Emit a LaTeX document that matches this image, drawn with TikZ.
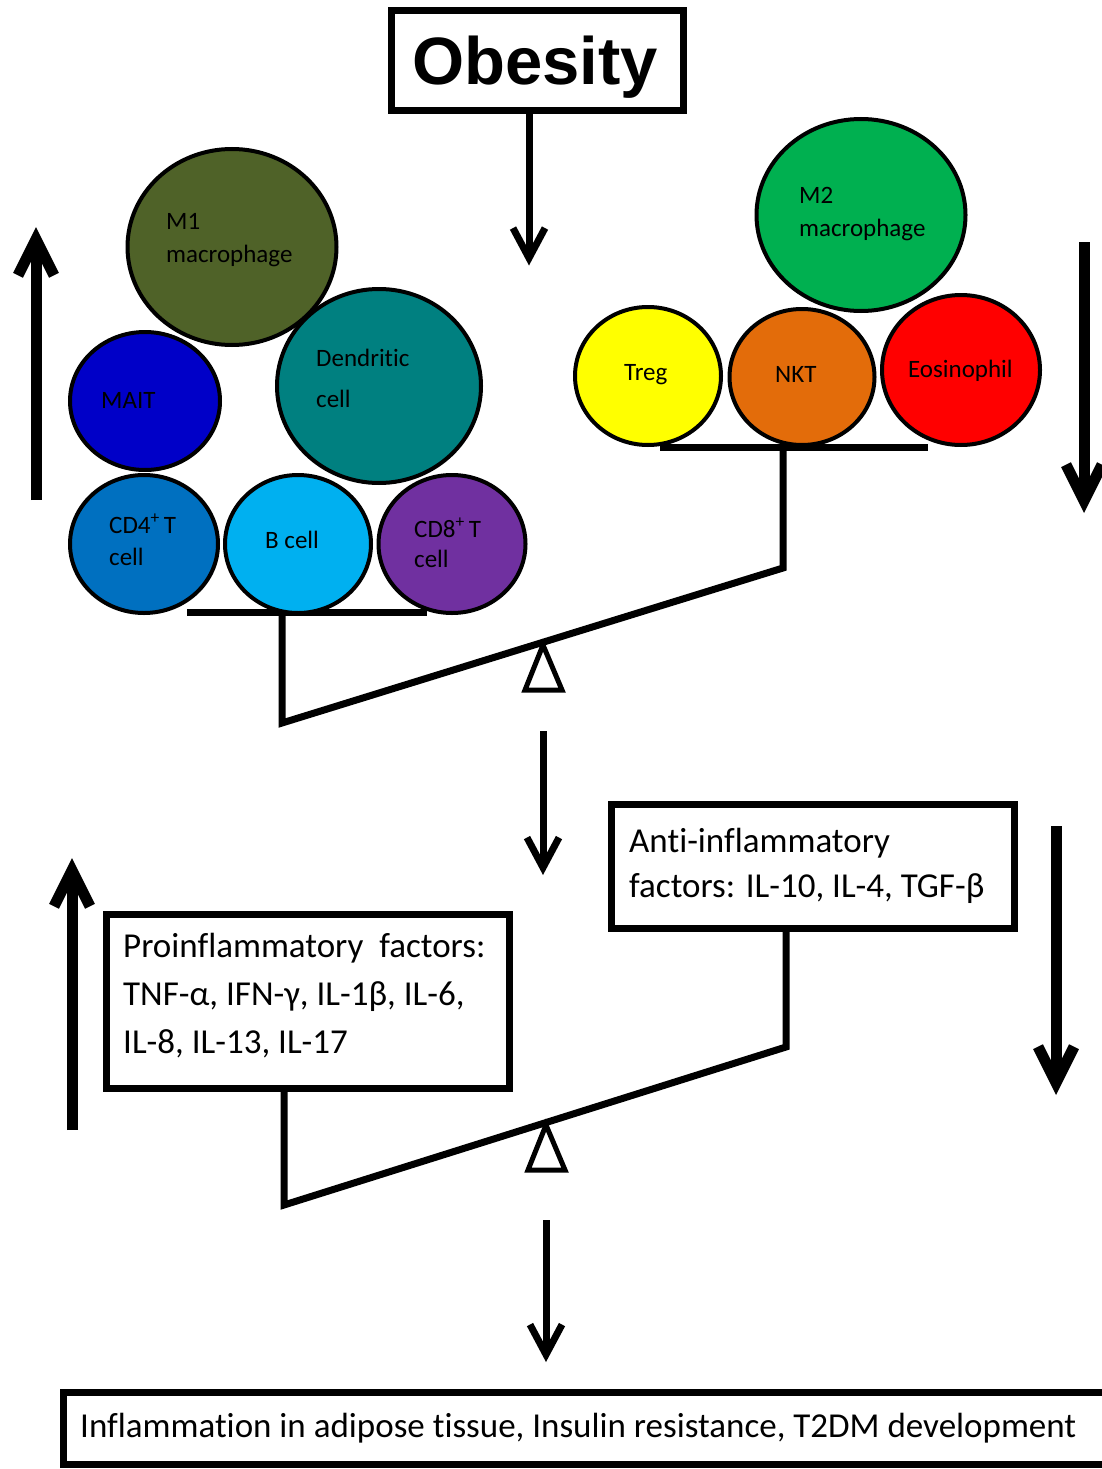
\documentclass[tikz,border=0pt]{standalone}
\usepackage{fontspec}
\setmainfont{Carlito}[Ligatures=NoCommon]
\newfontfamily\arialfont{Liberation Sans}
\usetikzlibrary{shapes.geometric,arrows.meta}
\definecolor{mone}{RGB}{79,98,40}
\definecolor{mait}{RGB}{0,0,200}
\definecolor{dend}{RGB}{0,128,128}
\definecolor{cdfour}{RGB}{0,112,192}
\definecolor{bcell}{RGB}{0,176,240}
\definecolor{cdeight}{RGB}{112,48,160}
\definecolor{mtwo}{RGB}{0,176,80}
\definecolor{treg}{RGB}{255,255,0}
\definecolor{nkt}{RGB}{227,108,10}
\definecolor{eos}{RGB}{255,0,0}
\begin{document}
\begin{tikzpicture}[x=1pt,y=-1pt,
  cell/.style={ellipse, draw=black, line width=4pt, inner sep=0pt},
  lbl/.style={font=\fontsize{25}{33}\selectfont, align=left, anchor=base west, inner sep=0pt},
  bar/.style={line width=7pt, line join=miter, line cap=butt},
  box/.style={draw=black, line width=7pt, inner sep=0pt, fill=white},
  btxt/.style={font=\fontsize{35}{45}\selectfont, align=left, anchor=base west, inner sep=0pt},
  arr/.style={line width=7pt, -{Straight Barb[length=30pt,width=32pt]}},
  bigarr/.style={line width=11pt, -{Straight Barb[length=36pt,width=36pt]}},
  fulc/.style={line width=5pt, line join=miter, fill=white}]
\useasboundingbox (0,0) rectangle (1102,1469);
\fill[white] (0,0) rectangle (1102,1469);

% Obesity
\node[box, minimum width=292, minimum height=100] (obesity) at (537,61) {};
\node[anchor=base, inner sep=0pt, font=\arialfont\bfseries\fontsize{67}{70}\selectfont] (obtxt) at (535,85) {Obesity};
\draw[arr] ([xshift=-8pt]obesity.south) -- ++(0,151);

% side arrows (top)
\coordinate (lua) at (36,500); \coordinate (lub) at (36,227);
\draw[bigarr] (lua) -- (lub);
\coordinate (rda) at (1084,242); \coordinate (rdb) at (1084,513);
\draw[bigarr] (rda) -- (rdb);

% seesaw 1
\coordinate (lpa) at (187,612); \coordinate (lpb) at (427,612);
\coordinate (rpa) at (660,447); \coordinate (rpb) at (928,447);
\coordinate (ls) at (282,612); \coordinate (lc) at (282,723);
\coordinate (rc) at (783,568); \coordinate (rs) at (783,447);
\draw[bar] (lpa) -- (lpb);
\draw[bar] (rpa) -- (rpb);
\draw[bar] (ls) -- (lc) -- (rc) -- (rs);
\draw[fulc] (543,645) -- (562,690) -- (525,690) -- cycle;

% left cells
\node[cell, fill=cdfour, minimum width=148, minimum height=138] (cd4) at (144,544) {};
\node[cell, fill=bcell, minimum width=146, minimum height=138] (bc) at (298,544) {};
\node[cell, fill=cdeight, minimum width=147, minimum height=138] (cd8) at (452,544) {};
\node[cell, fill=mait, minimum width=150, minimum height=138] (mait) at (145,401) {};
\node[cell, fill=mone, minimum width=209, minimum height=196] (m1) at (232,247) {};
\node[cell, fill=dend, minimum width=204, minimum height=194] (dc) at (379,386) {};

\node[lbl] (m1t) at (166,262) {M1\\macrophage};
\node[lbl] (maitt) at (101,408) {MAIT};
\node[lbl, font=\fontsize{25}{41}\selectfont] (dct) at (316,407) {Dendritic\\cell};
\node[lbl, font=\fontsize{25}{32}\selectfont] (cd4t) at (109,565) {CD4\textsuperscript{+}\,T\\cell};
\node[lbl] (bct) at (265,548) {B cell};
\node[lbl, font=\fontsize{25}{30}\selectfont] (cd8t) at (414,567) {CD8\textsuperscript{+}\,T\\cell};

% right cells
\node[cell, fill=treg, minimum width=146, minimum height=138] (tr) at (648,376) {};
\node[cell, fill=nkt, minimum width=145, minimum height=136] (nk) at (802,377) {};
\node[cell, fill=eos, minimum width=158, minimum height=150] (eo) at (961,370) {};
\node[cell, fill=mtwo, minimum width=209, minimum height=192] (m2) at (861,215) {};

\node[lbl] (m2t) at (799,236) {M2\\macrophage};
\node[lbl] (trt) at (624,380) {Treg};
\node[lbl] (nkt) at (775,382) {NKT};
\node[lbl] (eot) at (908,377) {Eosinophil};

% middle arrow
\coordinate (ma) at (543,731); \coordinate (mb) at (543,875);
\draw[arr] (ma) -- (mb);

% side arrows (bottom)
\coordinate (lla) at (72,1130); \coordinate (llb) at (72,858);
\draw[bigarr] (lla) -- (llb);
\coordinate (rla) at (1056,826); \coordinate (rlb) at (1056,1095);
\draw[bigarr] (rla) -- (rlb);

% factor boxes
\node[box, minimum width=403, minimum height=124] (anti) at (812.5,866) {};
\node[btxt] (antit) at (629,897) {Anti-inflammatory\\factors: IL-10, IL-4, TGF-β};
\node[box, minimum width=403, minimum height=174] (pro) at (307.5,1001) {};
\node[btxt, font=\fontsize{35}{48}\selectfont] (prot) at (123,1053) {Proinflammatory\ \ factors:\\TNF-α, IFN-γ, IL-1β, IL-6,\\IL-8, IL-13, IL-17};

% seesaw 2
\coordinate (ps) at (284,1091); \coordinate (pc) at (284,1205);
\coordinate (ac) at (786,1047); \coordinate (as) at (786,931);
\draw[bar] (ps) -- (pc) -- (ac) -- (as);
\draw[fulc] (546,1125) -- (565,1170) -- (528,1170) -- cycle;

% bottom arrow
\coordinate (ba) at (546,1220); \coordinate (bb) at (546,1362);
\draw[arr] (ba) -- (bb);

% outcome box
\node[box, minimum width=1052, minimum height=72] (out) at (589,1428) {};
\node[btxt] (outt) at (80,1437) {Inflammation in adipose tissue, Insulin resistance, T2DM development};
\end{tikzpicture}
\end{document}
